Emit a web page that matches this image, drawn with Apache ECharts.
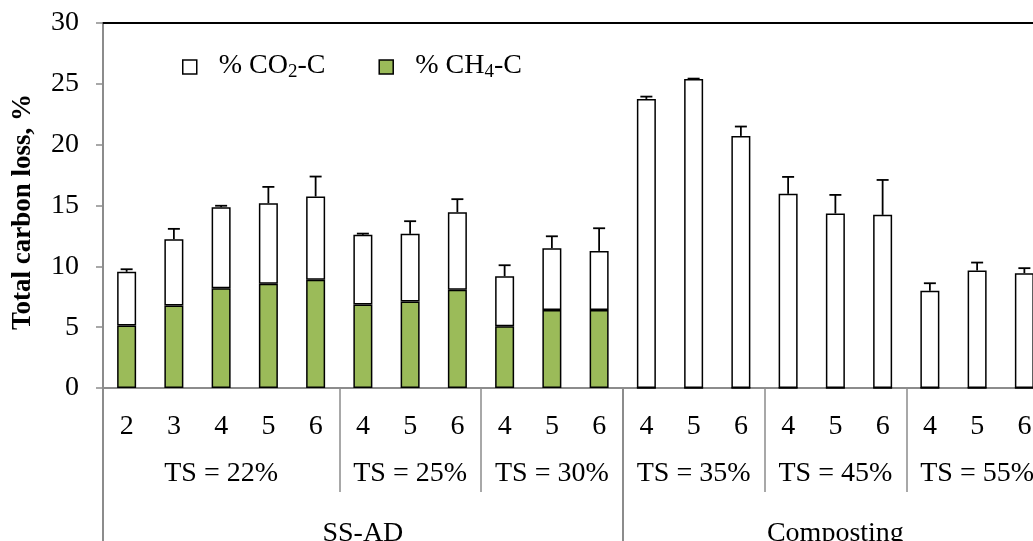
<!DOCTYPE html>
<html>
<head>
<meta charset="utf-8">
<script src="https://cdn.jsdelivr.net/npm/echarts@6/dist/echarts.min.js"></script>
<style>
html,body{margin:0;padding:0;background:#fff;}
#chart{width:1033px;height:541px;}
</style>
</head>
<body>
<div id="chart"></div>
<script>
// ---- Data ----
const levelNumbers = ['2','3','4','5','6','4','5','6','4','5','6','4','5','6','4','5','6','4','5','6'];
const tsGroups = ['TS = 22%','TS = 25%','TS = 30%','TS = 35%','TS = 45%','TS = 55%'];
const tsSizes = [5,3,3,3,3,3];
const processGroups = ['SS-AD','Composting'];
const processSizes = [11,9];
const ch4 = [5.13,6.78,8.20,8.56,8.89,6.86,7.11,8.07,5.08,6.42,6.42,0,0,0,0,0,0,0,0,0];
const co2 = [4.42,5.45,6.66,6.63,6.85,5.73,5.56,6.38,4.11,5.07,4.85,23.76,25.40,20.72,15.96,14.34,14.23,7.99,9.66,9.44];
const errs = [0.21,0.85,0.12,1.34,1.64,0.10,1.04,1.07,0.90,0.98,1.86,0.19,0.03,0.77,1.39,1.53,2.87,0.62,0.65,0.41];
const yTicks = {min:0, max:30, interval:5};

// ---- helpers ----
function groupAxisData(names, sizes){
  const out = []; const starts = [];
  names.forEach((n,gi)=>{
    starts.push(out.length);
    for(let k=0;k<sizes[gi];k++) out.push(k===Math.floor(sizes[gi]/2)? n : '');
  });
  return {data: out, starts: starts};
}
const tsAxis = groupAxisData(tsGroups, tsSizes);
const prAxis = groupAxisData(processGroups, processSizes);

const FONT = 'Liberation Serif';
const FS = 28;
const GRAY = '#8c8c8c';
const errData = ch4.map((v,i)=>[i, v + co2[i], errs[i]]);

const chart = echarts.init(document.getElementById('chart'));
const rich = {
  p: {fontSize:FS, fontFamily:FONT, color:'#000', lineHeight:30, verticalAlign:'top', padding:[0,0,0,17]},
  m: {fontSize:FS, fontFamily:FONT, color:'#000', lineHeight:30, verticalAlign:'top'},
  s: {fontSize:19, fontFamily:FONT, color:'#000', lineHeight:19, padding:[16,0,0,0], verticalAlign:'bottom'}
};
chart.setOption({
  animation:false,
  backgroundColor:'#fff',
  grid:{left:103, right:-15, top:23, bottom:153, containLabel:false, outerBoundsMode:'none'},
  legend:{
    left:177, top:42, itemWidth:14, itemHeight:14, itemGap:53, icon:'rect',
    data:['CO2','CH4'],
    itemStyle:{borderColor:'#000', borderWidth:1.5},
    formatter:function(n){ return n==='CO2' ? '{p|% CO}{s|2}{m|-C}' : '{p|% CH}{s|4}{m|-C}'; },
    textStyle:{rich:rich, fontSize:FS, fontFamily:FONT}
  },
  graphic:[{
    type:'text', x:23, y:212, rotation:Math.PI/2,
    style:{text:'Total carbon loss, %', font:'bold 27px "Liberation Serif"', fill:'#000', align:'center', verticalAlign:'middle'}
  }],
  xAxis:[
    {type:'category', data:levelNumbers, position:'bottom',
     axisLine:{lineStyle:{color:GRAY, width:2}}, axisTick:{show:false},
     axisLabel:{interval:0, fontSize:FS, fontFamily:FONT, color:'#000', margin:39, verticalAlign:'middle'}},
    {type:'category', data:tsAxis.data, position:'bottom',
     axisLine:{show:false},
     axisTick:{show:true, length:104, interval:function(i){return tsAxis.starts.indexOf(i)>=0;}, lineStyle:{color:GRAY, width:1.5}},
     axisLabel:{interval:0, fontSize:FS, fontFamily:FONT, color:'#000', margin:86, verticalAlign:'middle'}},
    {type:'category', data:prAxis.data, position:'bottom',
     axisLine:{show:false},
     axisTick:{show:true, length:170, interval:function(i){return prAxis.starts.indexOf(i)>=0;}, lineStyle:{color:GRAY, width:2}},
     axisLabel:{interval:0, fontSize:FS, fontFamily:FONT, color:'#000', margin:146, verticalAlign:'middle'}},
    {type:'category', data:levelNumbers, position:'top',
     axisLine:{show:true, lineStyle:{color:'#000', width:2}}, axisTick:{show:false}, axisLabel:{show:false}}
  ],
  yAxis:{type:'value', min:yTicks.min, max:yTicks.max, interval:yTicks.interval,
    axisLine:{show:true, lineStyle:{color:GRAY, width:2}},
    axisTick:{show:true, length:7, lineStyle:{color:GRAY, width:1.5}},
    splitLine:{show:false},
    axisLabel:{fontSize:FS, fontFamily:FONT, color:'#000', margin:24}},
  series:[
    {name:'CH4', type:'bar', stack:'tot', data:ch4, barWidth:19, xAxisIndex:0,
     itemStyle:{color:'#9BBB59', borderColor:'#000', borderWidth:1.5}},
    {name:'CO2', type:'bar', stack:'tot', data:co2, barWidth:19, xAxisIndex:0,
     itemStyle:{color:'#ffffff', borderColor:'#000', borderWidth:1.5}},
    {name:'err', type:'custom', xAxisIndex:0, z:5, data:errData,
     renderItem:function(params, api){
       const b = api.coord([api.value(0), api.value(1)]);
       const t = api.coord([api.value(0), api.value(1)+api.value(2)]);
       const st = {stroke:'#000', lineWidth:1.8};
       return {type:'group', children:[
         {type:'line', shape:{x1:b[0], y1:b[1], x2:t[0], y2:t[1]}, style:st},
         {type:'line', shape:{x1:t[0]-6, y1:t[1], x2:t[0]+6, y2:t[1]}, style:st}
       ]};
     }}
  ]
});
</script>
</body>
</html>
